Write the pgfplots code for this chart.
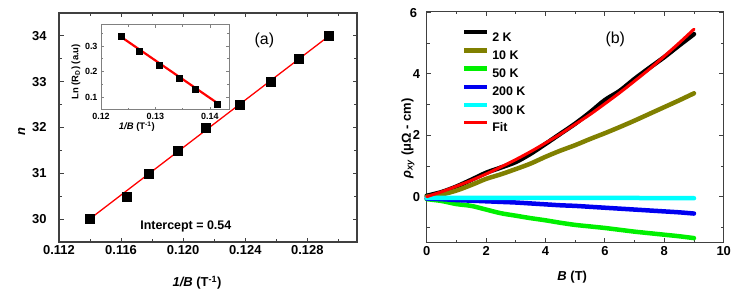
\documentclass[border=0pt]{standalone}
\usepackage{fontspec}
\setmainfont{Liberation Sans}
\usepackage{pgfplots}
\usepackage{pgfplotstable}
\pgfplotsset{compat=1.18}
\definecolor{axgray}{HTML}{404040}
\definecolor{olive2}{HTML}{808000}
\definecolor{green2}{HTML}{00F000}
\definecolor{blue2}{HTML}{0000F0}
\definecolor{cyan2}{HTML}{00FFFF}
\newcommand{\fs}[1]{\fontsize{#1}{#1}\selectfont}

\pgfplotstableread{
B    k2    k10   k50    k200   k300   fit
0    0.03  0.00  -0.08  -0.06  -0.04  0.00
0.5  0.15  0.07  -0.14  -0.08  -0.04  0.16
1    0.33  0.20  -0.24  -0.11  -0.04  0.34
1.5  0.55  0.38  -0.30  -0.13  -0.04  0.53
2    0.78  0.58  -0.42  -0.15  -0.04  0.74
2.5  0.95  0.73  -0.54  -0.17  -0.04  0.97
3    1.13  0.90  -0.62  -0.19  -0.04  1.21
3.5  1.40  1.08  -0.70  -0.22  -0.04  1.47
4    1.72  1.30  -0.77  -0.25  -0.04  1.75
4.5  2.05  1.50  -0.85  -0.28  -0.04  2.04
5    2.38  1.68  -0.92  -0.30  -0.04  2.36
5.5  2.75  1.88  -0.97  -0.33  -0.04  2.68
6    3.15  2.07  -1.02  -0.36  -0.04  3.03
6.5  3.45  2.27  -1.08  -0.39  -0.04  3.39
7    3.84  2.48  -1.14  -0.42  -0.04  3.77
7.5  4.20  2.70  -1.19  -0.45  -0.05  4.16
8    4.55  2.92  -1.24  -0.48  -0.05  4.58
8.5  4.93  3.14  -1.29  -0.51  -0.05  5.01
9    5.30  3.37  -1.35  -0.55  -0.05  5.46
}\hallTable

\pgfplotsset{
  panel/.style={
    scale only axis, anchor=south west,
    axis line style={axgray, line width=1.2bp},
    every tick/.style={axgray, line width=1bp},
    tick align=inside,
    major tick length=4.5bp, minor tick length=2.8bp,
    ticklabel style={font=\bfseries\fs{13}, text=black},
    /pgf/number format/assume math mode=true,
    label style={font=\bfseries\fs{13}},
    scaled ticks=false,
  }
}

\begin{document}
\begin{tikzpicture}
\useasboundingbox (0bp,0bp) rectangle (747bp,299bp);

% ---------- panel (a) ----------
\begin{axis}[panel,
  at={(59bp,57bp)}, width=298bp, height=229bp,
  xmin=0.112, xmax=0.1312, ymin=29.5, ymax=34.5,
  xtick={0.112,0.116,0.120,0.124,0.128},
  xticklabels={0.112,0.116,0.120,0.124,0.128},
  minor xtick={0.114,0.118,0.122,0.126,0.130},
  ytick={30,31,32,33,34},
  minor ytick={29.5,30.5,31.5,32.5,33.5},
  yticklabel style={xshift=-9bp},
  xlabel={\textit{1/B} (T\textsuperscript{-1})},
  ylabel={\textit{n}},
  xlabel style={at={(axis description cs:0.463,-0.179)}, anchor=center},
  ylabel style={at={(axis description cs:-0.125,0.482)}, anchor=center},
  clip=false,
]
\addplot[only marks, mark=square*, mark size=4.5bp, black] coordinates {
  (0.11397,30.0) (0.11636,30.5) (0.11779,31.0) (0.11967,31.5) (0.12142,32.0)
  (0.12367,32.5) (0.12562,33.0) (0.12743,33.5) (0.12940,34.0)};
\addplot[red, line width=1.3bp] coordinates {(0.11397,30.0) (0.12940,34.0)};
\node[font=\fs{16}] at (axis cs:0.12523,33.91) {(a)};
\node[font=\bfseries\fs{12.5}] at (axis cs:0.12017,29.84) {Intercept = 0.54};
\end{axis}

% ---------- inset ----------
\begin{axis}[
  scale only axis, anchor=south west,
  at={(101bp,189bp)}, width=128bp, height=85bp,
  xmin=0.12, xmax=0.1435, ymin=0.052, ymax=0.381,
  axis background/.style={fill=white},
  axis line style={gray, line width=1bp},
  every tick/.style={gray, line width=0.8bp},
  tick align=inside, major tick length=3bp, minor tick length=2bp,
  xtick={0.12,0.13,0.14}, xticklabels={0.12,0.13,0.14},
  minor xtick={0.125,0.135},
  ytick={0.1,0.2,0.3}, yticklabels={0.1,0.2,0.3},
  minor ytick={0.15,0.25,0.35},
  scaled ticks=false,
  ticklabel style={font=\bfseries\fs{9}},
  label style={font=\bfseries\fs{9.5}},
  xlabel={\textit{1/B} (T\textsuperscript{-1})},
  ylabel={Ln (R\textsubscript{D}) (a.u)},
  xlabel style={at={(axis description cs:0.28,-0.196)}, anchor=center},
  ylabel style={at={(axis description cs:-0.195,0.45)}, anchor=center},
]
\addplot[only marks, mark=square*, mark size=3bp, black] coordinates {
  (0.12368,0.339) (0.12706,0.281) (0.13074,0.224) (0.13436,0.177)
  (0.13731,0.134) (0.14142,0.076)};
\addplot[red, line width=2.2bp] coordinates {(0.12368,0.335) (0.14142,0.078)};
\end{axis}

% ---------- panel (b) ----------
\begin{axis}[panel,
  at={(426.7bp,56.3bp)}, width=297bp, height=231bp,
  xmin=0, xmax=10, ymin=-1.5, ymax=6.03,
  xtick={0,2,4,6,8,10}, minor xtick={1,3,5,7,9},
  ytick={0,2,4}, minor ytick={-1,1,3,5},
  extra y ticks={6}, extra y tick labels={6},
  extra y tick style={yticklabel style={xshift=-3bp}},
  yticklabel style={xshift=-3bp},
  xlabel={\textit{B} (T)},
  ylabel={\textit{ρ}\textsubscript{\textit{xy}} (μΩ - cm)},
  xlabel style={at={(axis description cs:0.49,-0.15)}, anchor=center},
  ylabel style={at={(axis description cs:-0.063,0.452)}, anchor=center},
  legend style={at={(axis description cs:0.118,0.9216)}, anchor=north west,
    draw=none, fill=none, font=\bfseries\fs{12.5}, row sep=7bp,
    inner sep=0pt, outer sep=0pt,
    nodes={inner sep=0pt, text height=9bp, text depth=0bp},
    /tikz/every odd column/.append style={column sep=3bp}},
  legend cell align=left,
  legend image code/.code={\draw[#1, line cap=butt] (0bp,4.5bp) -- (23bp,4.5bp);},
  clip=false,
]
\addplot[black, line width=4.5bp, line cap=round, smooth] table[x=B,y=k2] {\hallTable};
\addplot[olive2, line width=4.5bp, line cap=round, smooth] table[x=B,y=k10] {\hallTable};
\addplot[green2, line width=4.5bp, line cap=round, smooth] table[x=B,y=k50] {\hallTable};
\addplot[blue2, line width=4.5bp, line cap=round, smooth] table[x=B,y=k200] {\hallTable};
\addplot[cyan2, line width=4.5bp, line cap=round, smooth] table[x=B,y=k300] {\hallTable};
\addplot[red, line width=3bp, line cap=round, smooth] table[x=B,y=fit] {\hallTable};
\legend{2 K,10 K,50 K,200 K,300 K,Fit}
\node[font=\fs{16}] at (axis cs:6.35,5.14) {(b)};
\end{axis}
\end{tikzpicture}
\end{document}
